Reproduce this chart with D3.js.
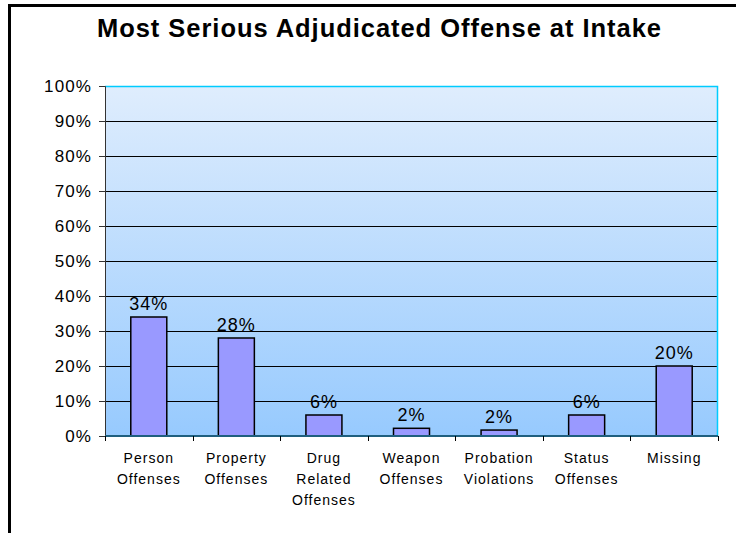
<!DOCTYPE html>
<html>
<head>
<meta charset="utf-8">
<script src="https://cdn.jsdelivr.net/npm/d3@7"></script>
<style>
  body { margin: 0; background: #fff; }
  svg { display: block; font-family: Arial, "Liberation Sans", sans-serif; }
</style>
</head>
<body>
<script>
// values
const categories = [
  ["Person", "Offenses"],
  ["Property", "Offenses"],
  ["Drug", "Related", "Offenses"],
  ["Weapon", "Offenses"],
  ["Probation", "Violations"],
  ["Status", "Offenses"],
  ["Missing"]
];
const values = [34, 28, 6, 2.2, 1.7, 6, 20];
const labels = ["34%", "28%", "6%", "2%", "2%", "6%", "20%"];
const yTicks = [0, 10, 20, 30, 40, 50, 60, 70, 80, 90, 100];

const width = 736, height = 533;
const plot = {left: 105, top: 86, right: 718, bottom: 436};

const svg = d3.select('body').append('svg').attr('width', width).attr('height', height);

// outer frame (left + top only visible)
svg.append('path').attr('d', `M9.5,${height} V5.5 H${width}`)
  .attr('fill', 'none').attr('stroke', '#000').attr('stroke-width', 3);

svg.append('text').attr('x', 379).attr('y', 37).attr('text-anchor', 'middle')
  .attr('font-size', 25.5).attr('font-weight', 'bold')
  .attr('textLength', 564).attr('lengthAdjust', 'spacing')
  .text('Most Serious Adjudicated Offense at Intake');

const x = d3.scaleBand().domain(d3.range(categories.length)).range([plot.left, plot.right]);
const y = d3.scaleLinear().domain([0, 100]).range([plot.bottom, plot.top]);

const grad = svg.append('defs').append('linearGradient').attr('id', 'bg')
  .attr('x1', 0).attr('y1', 0).attr('x2', 0).attr('y2', 1);
grad.append('stop').attr('offset', '0%').attr('stop-color', '#dfedfd');
grad.append('stop').attr('offset', '100%').attr('stop-color', '#97cafe');

svg.append('rect').attr('x', plot.left).attr('y', plot.top)
  .attr('width', plot.right - plot.left).attr('height', plot.bottom - plot.top)
  .attr('fill', 'url(#bg)');

// gridlines
svg.append('g').selectAll('line').data(yTicks.filter(d => d > 0 && d < 100)).join('line')
  .attr('x1', plot.left).attr('x2', plot.right)
  .attr('y1', d => Math.round(y(d)) + 0.5).attr('y2', d => Math.round(y(d)) + 0.5)
  .attr('stroke', '#000').attr('stroke-width', 1);

// plot border (cyan top/right)
svg.append('path').attr('d', `M${plot.left},${plot.top + 0.5} H${plot.right - 0.5} V${plot.bottom}`)
  .attr('fill', 'none').attr('stroke', '#00ccff').attr('stroke-width', 1.5);

// y axis
const yAxis = svg.append('g').attr('transform', `translate(${plot.left},0)`)
  .call(d3.axisLeft(y).tickValues(yTicks).tickFormat(d => d + '%').tickSize(6).tickPadding(8));
yAxis.select('.domain').attr('stroke', '#333');
yAxis.selectAll('.tick line').attr('stroke', '#333');
yAxis.selectAll('text').attr('font-size', 17).attr('fill', '#000')
  .attr('letter-spacing', 1.1).attr('dx', 1)
  .attr('font-family', 'Arial, "Liberation Sans", sans-serif');

// bars
svg.append('g').selectAll('rect').data(values).join('rect')
  .attr('x', (d, i) => x(i) + x.bandwidth() / 2 - 18)
  .attr('width', 36)
  .attr('y', d => y(d))
  .attr('height', d => y(0) - y(d))
  .attr('fill', '#9999ff').attr('stroke', '#000').attr('stroke-width', 1.5);

// value labels
svg.append('g').selectAll('text').data(values).join('text')
  .attr('x', (d, i) => x(i) + x.bandwidth() / 2)
  .attr('y', d => y(d) - 7)
  .attr('text-anchor', 'middle').attr('font-size', 18).attr('letter-spacing', 1)
  .text((d, i) => labels[i]);

// x axis
svg.append('line').attr('x1', plot.left).attr('x2', plot.right)
  .attr('y1', plot.bottom).attr('y2', plot.bottom)
  .attr('stroke', '#1f5f7f').attr('stroke-width', 2);
svg.append('g').selectAll('line').data(d3.range(categories.length + 1)).join('line')
  .attr('x1', i => Math.round(plot.left + i * x.step()) + 0.5)
  .attr('x2', i => Math.round(plot.left + i * x.step()) + 0.5)
  .attr('y1', plot.bottom).attr('y2', plot.bottom + 5)
  .attr('stroke', '#000');

// category labels
const cat = svg.append('g').selectAll('text').data(categories).join('text')
  .attr('text-anchor', 'middle').attr('font-size', 14).attr('letter-spacing', 1)
  .attr('x', (d, i) => x(i) + x.bandwidth() / 2);
cat.selectAll('tspan').data(d => d).join('tspan')
  .attr('x', function() { return this.parentNode.getAttribute('x'); })
  .attr('y', (d, j) => 463 + j * 21)
  .text(d => d);
</script>
</body>
</html>
